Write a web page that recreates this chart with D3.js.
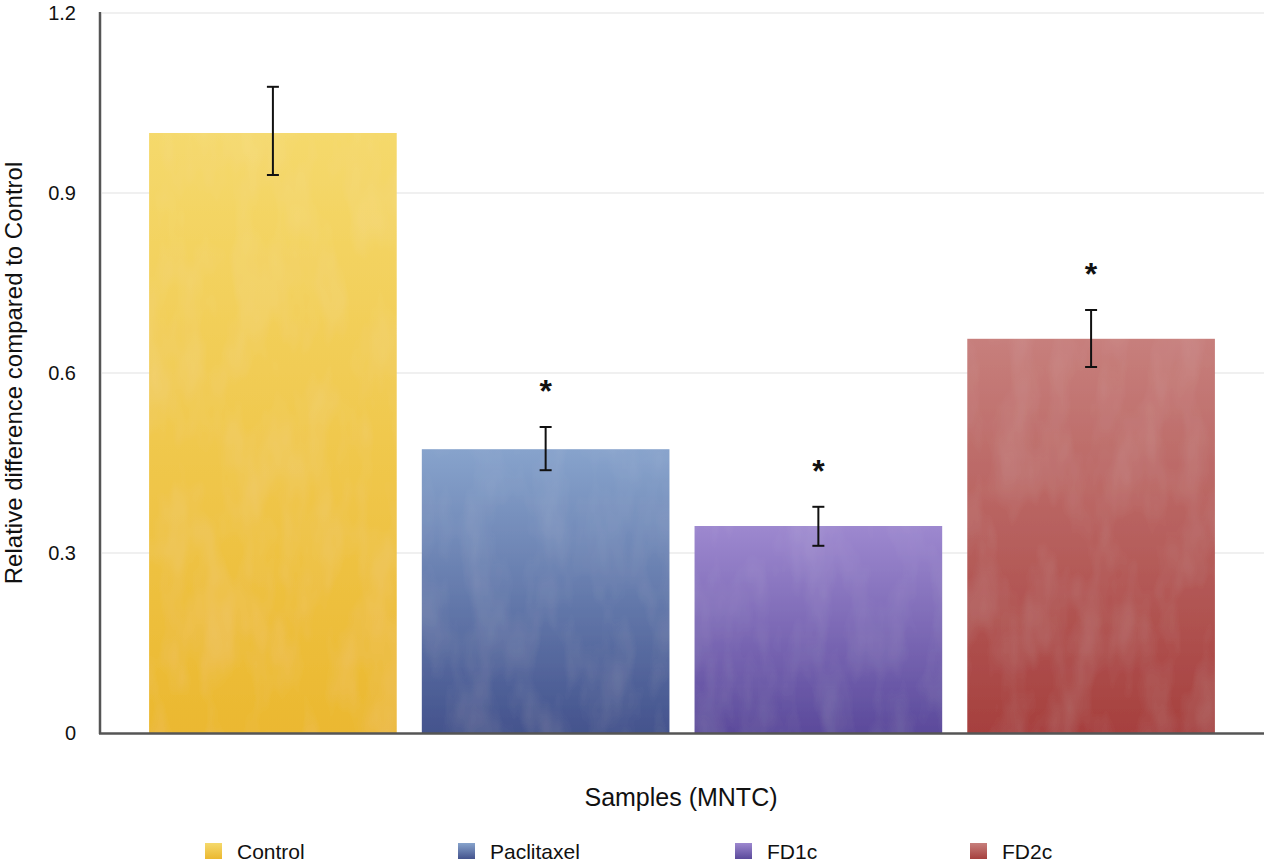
<!DOCTYPE html>
<html>
<head>
<meta charset="utf-8">
<script src="https://cdn.jsdelivr.net/npm/d3@7"></script>
<style>
  body { margin: 0; background: #fff; }
  text { font-family: "Liberation Sans", Helvetica, Arial, sans-serif; fill: #111; }
</style>
</head>
<body>
<div id="chart"></div>
<script>
const categories = ["Control", "Paclitaxel", "FD1c", "FD2c"];
const values = [1.0, 0.473, 0.345, 0.657];
const errLow = [0.93, 0.438, 0.312, 0.61];
const errHigh = [1.077, 0.51, 0.377, 0.705];
const significant = [false, true, true, true];
const yTicks = [0, 0.3, 0.6, 0.9, 1.2];
const topColors = ["#f5d96c", "#87a3cc", "#9d88cf", "#c77f7c"];
const bottomColors = ["#ebb830", "#44538d", "#5b4a9b", "#a6403e"];

const width = 1267, height = 865;
const margin = { left: 100, right: 3, top: 13, bottom: 132 };

const svg = d3.select("#chart").append("svg")
  .attr("width", width)
  .attr("height", height);

const defs = svg.append("defs");
categories.forEach((c, i) => {
  const g = defs.append("linearGradient")
    .attr("id", "grad" + i)
    .attr("x1", 0).attr("y1", 0).attr("x2", 0).attr("y2", 1);
  g.append("stop").attr("offset", "0%").attr("stop-color", topColors[i]);
  g.append("stop").attr("offset", "100%").attr("stop-color", bottomColors[i]);
});

// faint paper texture like the original
const filt = defs.append("filter").attr("id", "tex");
filt.append("feTurbulence")
  .attr("type", "fractalNoise")
  .attr("baseFrequency", "0.03 0.012")
  .attr("numOctaves", 3)
  .attr("seed", 7)
  .attr("result", "noise");
filt.append("feColorMatrix")
  .attr("in", "noise")
  .attr("type", "matrix")
  .attr("values", "0 0 0 0 1  0 0 0 0 1  0 0 0 0 1  0 0 0 0.12 -0.045")
  .attr("result", "wn");
filt.append("feComposite").attr("in", "wn").attr("in2", "SourceGraphic").attr("operator", "in").attr("result", "clip");
filt.append("feMerge").call(m => {
  m.append("feMergeNode").attr("in", "SourceGraphic");
  m.append("feMergeNode").attr("in", "clip");
});

const x = d3.scaleBand()
  .domain(categories)
  .range([margin.left, width - margin.right])
  .paddingInner(0.092)
  .paddingOuter(0.18);

const y = d3.scaleLinear()
  .domain([0, 1.2])
  .range([height - margin.bottom, margin.top]);

// grid lines
svg.append("g")
  .selectAll("line")
  .data(yTicks.filter(d => d > 0))
  .join("line")
  .attr("x1", margin.left + 2)
  .attr("x2", width - margin.right)
  .attr("y1", d => y(d))
  .attr("y2", d => y(d))
  .attr("stroke", "#e2e2e2")
  .attr("stroke-width", 1.2);

// y tick labels
svg.append("g")
  .selectAll("text")
  .data(yTicks)
  .join("text")
  .attr("x", 76)
  .attr("y", d => y(d))
  .attr("dy", "0.35em")
  .attr("text-anchor", "end")
  .style("font-size", "20px")
  .text(d => d === 0 ? "0" : d3.format(".1f")(d));

// bars
svg.append("g")
  .selectAll("rect")
  .data(values)
  .join("rect")
  .attr("x", (d, i) => x(categories[i]))
  .attr("y", d => y(d))
  .attr("width", x.bandwidth())
  .attr("height", d => y(0) - y(d))
  .attr("fill", (d, i) => `url(#grad${i})`)
  .attr("filter", "url(#tex)");

// error bars
const eb = svg.append("g").attr("stroke", "#111").attr("stroke-width", 2);
categories.forEach((c, i) => {
  const cx = x(c) + x.bandwidth() / 2;
  eb.append("line").attr("x1", cx).attr("x2", cx).attr("y1", y(errLow[i])).attr("y2", y(errHigh[i]));
  eb.append("line").attr("x1", cx - 6).attr("x2", cx + 6).attr("y1", y(errLow[i])).attr("y2", y(errLow[i]));
  eb.append("line").attr("x1", cx - 6).attr("x2", cx + 6).attr("y1", y(errHigh[i])).attr("y2", y(errHigh[i]));
});

// significance stars
svg.append("g")
  .selectAll("text")
  .data(categories.filter((c, i) => significant[i]))
  .join("text")
  .attr("x", c => x(c) + x.bandwidth() / 2)
  .attr("y", c => y(errHigh[categories.indexOf(c)]) - 47)
  .attr("dy", "0.7em")
  .attr("text-anchor", "middle")
  .style("font-size", "32px")
  .style("font-weight", "bold")
  .text("*");

// axes lines
svg.append("line")
  .attr("x1", margin.left).attr("x2", margin.left)
  .attr("y1", y(1.2) - 1).attr("y2", y(0) + 1)
  .attr("stroke", "#555").attr("stroke-width", 2.5);
svg.append("line")
  .attr("x1", margin.left - 1).attr("x2", width - margin.right)
  .attr("y1", y(0) + 0.5).attr("y2", y(0) + 0.5)
  .attr("stroke", "#555").attr("stroke-width", 2.5);

// axis titles
svg.append("text")
  .attr("transform", `translate(22,${(y(0) + y(1.2)) / 2}) rotate(-90)`)
  .attr("text-anchor", "middle")
  .style("font-size", "24px")
  .text("Relative difference compared to Control");

svg.append("text")
  .attr("x", 681)
  .attr("y", 806)
  .attr("text-anchor", "middle")
  .style("font-size", "25px")
  .text("Samples (MNTC)");

// legend
const legendX = [205, 458, 735, 970];
const lg = svg.append("g")
  .selectAll("g")
  .data(categories)
  .join("g")
  .attr("transform", (d, i) => `translate(${legendX[i]},843)`);
lg.append("rect")
  .attr("width", 17).attr("height", 16)
  .attr("fill", (d, i) => `url(#grad${i})`);
lg.append("text")
  .attr("x", 32).attr("y", 9)
  .attr("dy", "0.35em")
  .style("font-size", "21px")
  .text(d => d);
</script>
</body>
</html>
